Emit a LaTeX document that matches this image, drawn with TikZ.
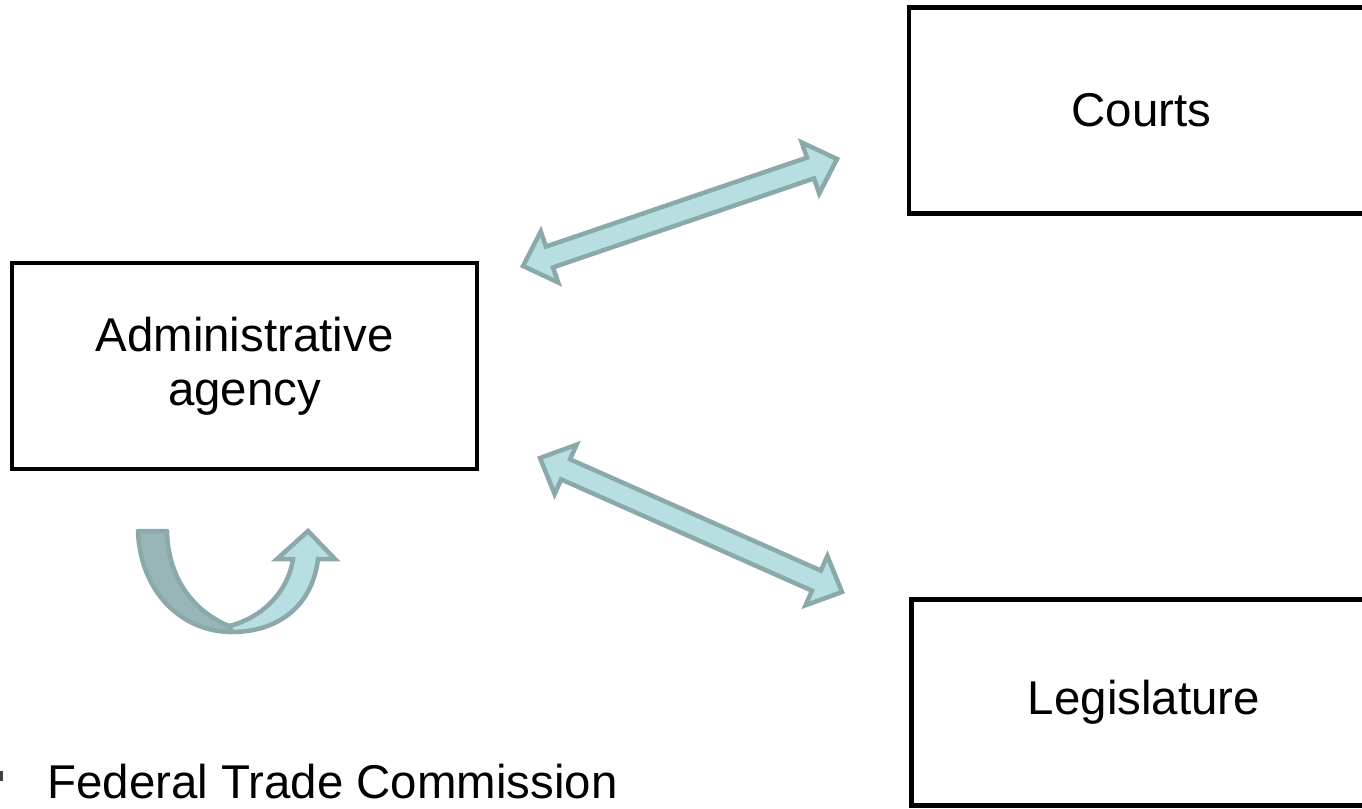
\documentclass[tikz,border=0pt]{standalone}
\usepackage{fontspec}
\setmainfont{Liberation Sans}
\usepackage{xcolor}
\usepackage{tikz}
\usetikzlibrary{calc}
\definecolor{arrowfill}{HTML}{B7DEE1}
\definecolor{arrowline}{HTML}{8BA9AB}
\definecolor{arrowback}{HTML}{98B6B8}
% block arrow with two heads between two named tips
\newcommand{\dblarrow}[2]{%
  \coordinate (#1h) at ($(#1)!0.56cm!(#2)$);
  \coordinate (#2h) at ($(#2)!0.56cm!(#1)$);
  \draw[blk] (#1) -- ($(#1h)!0.54cm!-90:(#2)$) -- ($(#1h)!0.22cm!-90:(#2)$)
    -- ($(#2h)!0.22cm!90:(#1)$) -- ($(#2h)!0.54cm!90:(#1)$) -- (#2)
    -- ($(#2h)!0.54cm!-90:(#1)$) -- ($(#2h)!0.22cm!-90:(#1)$)
    -- ($(#1h)!0.22cm!90:(#2)$) -- ($(#1h)!0.54cm!90:(#2)$) -- cycle;
}

\begin{document}
\begin{tikzpicture}[
  x=0.02cm, y=-0.02cm,
  box/.style={draw, line width=0.09cm, minimum width=9.3cm, minimum height=4.12cm, inner sep=0pt, align=center, font=\fontsize{27}{30.7}\selectfont},
  lbl/.style={inner sep=0pt, font=\fontsize{27}{30.7}\selectfont},
  blk/.style={fill=arrowfill, draw=arrowline, line width=0.09cm, line join=miter}
]
  \useasboundingbox (0,0) rectangle (1362,808);
  \clip (0,0) rectangle (1362,808);

  % Boxes
  \node[box] (agency) at (244.5,366) {Administrative\\agency};
  \node[box] (courts) at (1141.5,110.5) {Courts};
  \node[box] (legis) at (1144,702.5) {Legislature};

  % Arrow tips
  \coordinate (up1) at (523,266);
  \coordinate (up2) at (837,159);
  \coordinate (dn1) at (540,458);
  \coordinate (dn2) at (842,592);

  % Two-way arrows
  \dblarrow{up1}{up2}
  \dblarrow{dn1}{dn2}

  % Turning arrow below the agency
  \filldraw[fill=arrowback, draw=arrowline, line width=0.09cm, line join=round]
    (138,531) .. controls (140,590) and (180,632) .. (232,632)
    -- (229,626) .. controls (195,612) and (168,580) .. (167,531) -- cycle;
  \filldraw[blk]
    (229,626) .. controls (262,618) and (288,592) .. (293,559)
    -- (277,559) -- (308,531) -- (335,559) -- (318,559)
    .. controls (312,608) and (276,632) .. (232,632) -- cycle;

  % Bullet line
  \fill[black!75] (-5,771) rectangle (3,781);
  \node[lbl, anchor=base west] (ftc) at (47,798) {Federal Trade Commission};
\end{tikzpicture}
\end{document}
